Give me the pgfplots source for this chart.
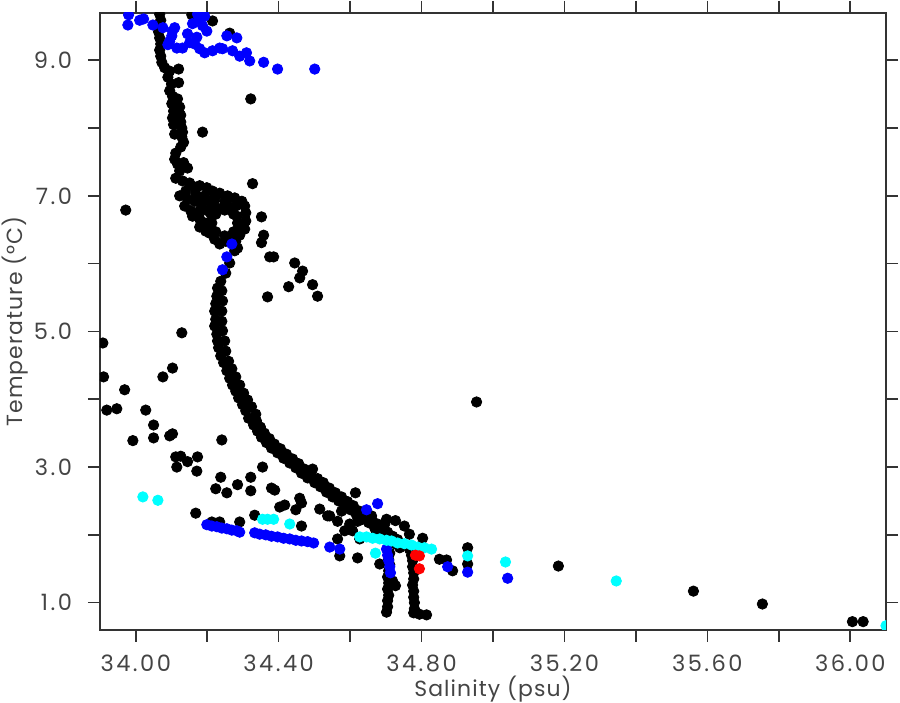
\documentclass[border=0pt]{standalone}
\usepackage{pgfplots}
\pgfplotsset{compat=1.18}
\usepackage{fontspec}
\setmainfont{Poppins}[LetterSpace=5]
\newfontfamily\tickfont{Poppins}[LetterSpace=11]
\definecolor{txt}{HTML}{444444}
\definecolor{axc}{HTML}{333333}
\definecolor{cy}{RGB}{0,255,255}
\definecolor{bl}{RGB}{0,0,255}
\definecolor{rd}{RGB}{255,0,0}
\begin{document}
\begin{tikzpicture}
\begin{axis}[
  at={(0,0)}, anchor=south west,
  width=393bp, height=308.5bp, scale only axis,
  xmin=33.9, xmax=36.1, ymin=0.6, ymax=9.7,
  axis line style={axc, line width=0.9bp},
  every tick/.style={axc, line width=0.8bp},
  tick align=outside, major tick length=6bp,
  xtick={34.0,34.2,34.4,34.6,34.8,35.0,35.2,35.4,35.6,35.8,36.0},
  xticklabels={34.00,,34.40,,34.80,,35.20,,35.60,,36.00},
  ytick={1,2,3,4,5,6,7,8,9},
  yticklabels={1.0,,3.0,,5.0,,7.0,,9.0},
  /pgf/number format/assume math mode=true,
  every tick label/.append style={font=\tickfont\fontsize{11.3}{13}\selectfont, text=txt},
  xticklabel style={yshift=-3bp},
  yticklabel style={xshift=-4.5bp},
  label style={font=\fontsize{11}{13}\selectfont, text=txt, inner sep=0pt},
  xlabel={Salinity (psu)}, ylabel={Temperature (°C)},
  xlabel style={at={(axis description cs:0.5,-0.108)}, anchor=base},
  ylabel style={at={(axis description cs:-0.099,0.5)}, anchor=base},
  clip marker paths=true,
  every axis plot/.append style={only marks, mark=*, mark size=2.6bp},
]
% black
\addplot[black] coordinates {
(34.067,9.68)(34.070,9.59)(34.067,9.51)(34.064,9.42)(34.067,9.33)(34.070,9.24)(34.067,9.15)(34.070,9.06)(34.073,8.97)(34.081,8.89)(34.095,8.84)(34.120,8.87)(34.120,8.67)
(34.157,9.67)(34.215,9.58)(34.263,9.40)(34.068,9.76)(34.155,9.76)(34.090,8.75)(34.100,8.65)
(34.095,8.55)(34.103,8.47)(34.117,8.43)(34.101,8.36)(34.123,8.31)(34.106,8.25)(34.126,8.19)(34.103,8.15)(34.126,8.09)(34.106,8.05)(34.129,8.00)(34.109,7.91)(34.131,7.94)(34.129,7.87)(34.134,7.79)(34.126,7.72)
(34.322,8.43)(34.187,7.94)(34.327,7.18)(33.972,6.79)
(34.112,7.63)(34.109,7.54)(34.117,7.47)(34.134,7.49)(34.145,7.41)(34.123,7.37)(34.112,7.26)(34.131,7.22)(34.151,7.19)(34.165,7.13)(34.140,7.07)(34.123,7.00)(34.145,6.95)(34.165,6.92)(34.137,6.85)(34.154,6.78)(34.179,6.78)(34.159,6.70)
(34.179,7.15)(34.199,7.12)(34.215,7.07)(34.235,7.04)(34.257,7.00)(34.277,6.97)(34.297,6.92)(34.305,6.85)(34.308,6.75)(34.308,6.63)(34.305,6.51)(34.291,6.42)(34.280,6.33)(34.285,6.23)(34.269,6.38)(34.193,7.00)(34.207,6.92)(34.221,6.85)(34.185,6.85)(34.201,6.78)(34.179,6.66)(34.193,6.60)(34.213,6.70)(34.204,6.54)(34.207,6.45)(34.221,6.36)(34.235,6.29)(34.252,6.33)(34.269,6.78)(34.283,6.70)(34.241,6.82)(34.257,6.87)(34.221,6.95)(34.280,6.85)(34.249,6.92)(34.168,7.03)(34.176,6.92)(34.179,6.54)(34.196,6.48)(34.291,6.56)
(34.285,6.60)(34.274,6.73)(34.249,6.79)(34.224,6.73)(34.213,6.60)(34.224,6.47)(34.249,6.41)(34.274,6.47)
(34.352,6.69)(34.358,6.42)(34.352,6.31)(34.375,6.10)(34.386,6.10)(34.445,6.01)(34.467,5.89)(34.459,5.79)(34.495,5.69)(34.428,5.66)(34.509,5.52)(34.369,5.51)
(34.277,6.19)(34.263,6.01)(34.252,5.86)(34.238,5.74)(34.229,5.64)(34.227,5.52)(34.224,5.41)(34.221,5.30)(34.224,5.18)(34.221,5.08)(34.227,4.96)(34.229,4.86)(34.232,4.76)(34.238,4.64)(34.246,4.54)(34.255,4.42)(34.263,4.31)(34.271,4.21)(34.280,4.12)(34.288,4.02)(34.299,3.92)(34.308,3.83)(34.316,3.72)(34.330,3.62)(34.341,3.53)(34.352,3.44)(34.366,3.36)(34.380,3.28)(34.397,3.21)(34.414,3.13)(34.431,3.06)(34.448,2.99)(34.464,2.91)(34.481,2.84)(34.501,2.77)(34.517,2.71)(34.534,2.63)(34.551,2.56)(34.568,2.50)(34.585,2.43)(34.601,2.37)(34.618,2.29)(34.635,2.23)(34.652,2.18)(34.669,2.10)(34.683,2.04)(34.697,1.98)(34.711,1.92)(34.725,1.87)(34.739,1.81)
(34.241,5.60)(34.243,5.45)(34.241,5.30)(34.241,5.15)(34.243,5.01)(34.249,4.86)(34.252,4.71)(34.260,4.56)(34.269,4.45)(34.280,4.33)(34.291,4.21)(34.302,4.09)(34.313,3.99)(34.324,3.89)(34.336,3.78)
(34.338,3.68)(34.349,3.59)(34.360,3.50)(34.374,3.42)(34.388,3.34)(34.405,3.27)(34.422,3.19)(34.439,3.12)(34.456,3.05)(34.472,2.97)(34.489,2.90)(34.509,2.83)(34.525,2.77)(34.542,2.69)(34.559,2.62)(34.576,2.56)(34.593,2.49)(34.609,2.43)(34.626,2.35)(34.643,2.29)(34.660,2.24)(34.677,2.16)(34.691,2.10)(34.705,2.04)(34.719,1.98)(34.733,1.93)
(34.129,4.98)(33.908,4.83)(34.103,4.46)(34.076,4.33)(33.910,4.33)(33.969,4.14)(33.919,3.84)(33.947,3.86)(34.028,3.84)(34.050,3.62)(33.992,3.39)(34.050,3.43)(34.095,3.46)(34.103,3.49)(34.241,3.40)
(34.112,3.15)(34.126,3.16)(34.173,3.15)(34.115,3.00)(34.145,3.08)(34.171,2.94)(34.355,3.00)(34.238,2.85)(34.322,2.85)(34.285,2.74)(34.224,2.68)(34.255,2.62)(34.322,2.65)(34.380,2.69)(34.389,2.66)(34.459,2.54)(34.464,2.47)(34.403,2.41)(34.417,2.44)(34.448,2.37)(34.495,2.97)(34.515,2.38)(34.168,2.32)(34.333,2.29)(34.543,2.28)(34.213,2.19)(34.235,2.19)(34.291,2.19)(34.954,3.96)
(34.464,2.13)(34.537,2.28)(34.565,2.20)(34.576,2.35)(34.615,2.62)(34.599,2.16)(34.585,2.06)(34.621,2.20)(34.607,2.06)(34.565,1.94)(34.627,1.94)(34.571,1.69)(34.621,1.66)(34.674,2.03)(34.683,1.57)(34.702,2.23)(34.697,2.16)(34.766,2.01)(34.803,1.95)(34.850,1.64)(34.870,1.63)(34.887,1.47)(34.727,2.21)(34.752,2.13)(34.660,2.28)
(34.929,1.81)(34.929,1.57)(35.183,1.54)(35.561,1.17)(35.754,0.98)(36.006,0.72)(36.036,0.72)
(34.711,1.73)(34.708,1.64)(34.711,1.56)(34.708,1.47)(34.705,1.38)(34.708,1.29)(34.705,1.20)(34.708,1.11)(34.705,1.03)(34.705,0.94)(34.702,0.86)(34.719,1.32)(34.727,1.25)
(34.766,1.79)(34.772,1.70)(34.775,1.62)(34.775,1.53)(34.778,1.44)(34.778,1.35)(34.775,1.26)(34.778,1.17)(34.778,1.08)(34.780,1.00)(34.780,0.91)(34.778,0.85)(34.794,0.83)(34.814,0.82)
};
% blue
\addplot[bl] coordinates {
(33.980,9.67)(33.978,9.52)(34.011,9.59)(34.022,9.61)(34.048,9.52)(34.076,9.48)(34.103,9.43)(34.109,9.48)(34.159,9.54)(34.179,9.61)(34.187,9.51)(34.199,9.43)(34.095,9.28)(34.115,9.18)(34.131,9.18)(34.151,9.26)(34.165,9.24)(34.179,9.17)(34.193,9.11)(34.215,9.14)(34.235,9.18)(34.243,9.17)(34.255,9.36)(34.283,9.33)(34.271,9.14)(34.291,9.06)(34.310,9.11)(34.319,8.99)(34.358,8.97)(34.397,8.87)(34.501,8.87)(34.101,9.36)(34.090,9.23)(34.173,9.68)(34.193,9.65)(34.171,9.34)(34.145,9.39)(33.985,9.75)(34.175,9.76)
(34.269,6.29)(34.255,6.10)(34.243,5.91)
(34.199,2.15)(34.213,2.13)(34.227,2.12)(34.241,2.10)(34.255,2.09)(34.269,2.07)(34.283,2.06)(34.291,2.04)(34.333,2.03)(34.347,2.01)(34.364,2.00)(34.380,1.98)(34.397,1.97)(34.414,1.95)(34.431,1.94)(34.448,1.92)(34.464,1.91)(34.481,1.90)(34.498,1.88)(34.543,1.82)(34.571,1.79)
(34.646,2.37)(34.677,2.46)(34.702,1.79)(34.705,1.70)(34.708,1.62)(34.711,1.53)(34.713,1.44)(34.873,1.53)(34.929,1.45)(35.041,1.36)
};
% cyan
\addplot[cy] coordinates {
(34.020,2.56)(34.062,2.51)(34.355,2.23)(34.369,2.23)(34.386,2.23)(34.431,2.16)
(34.627,1.97)(34.646,1.97)(34.663,1.95)(34.683,1.94)(34.702,1.92)(34.716,1.91)(34.733,1.88)(34.752,1.87)(34.772,1.85)(34.789,1.82)(34.808,1.81)(34.828,1.79)
(34.671,1.73)(34.929,1.69)(35.035,1.60)(35.345,1.32)(36.100,0.66)
};
% red
\addplot[rd] coordinates {(34.783,1.70)(34.794,1.69)(34.794,1.50)};
\end{axis}
\path (-50bp,-35.5bp) rectangle (400bp,314.5bp);
\end{tikzpicture}
\end{document}
